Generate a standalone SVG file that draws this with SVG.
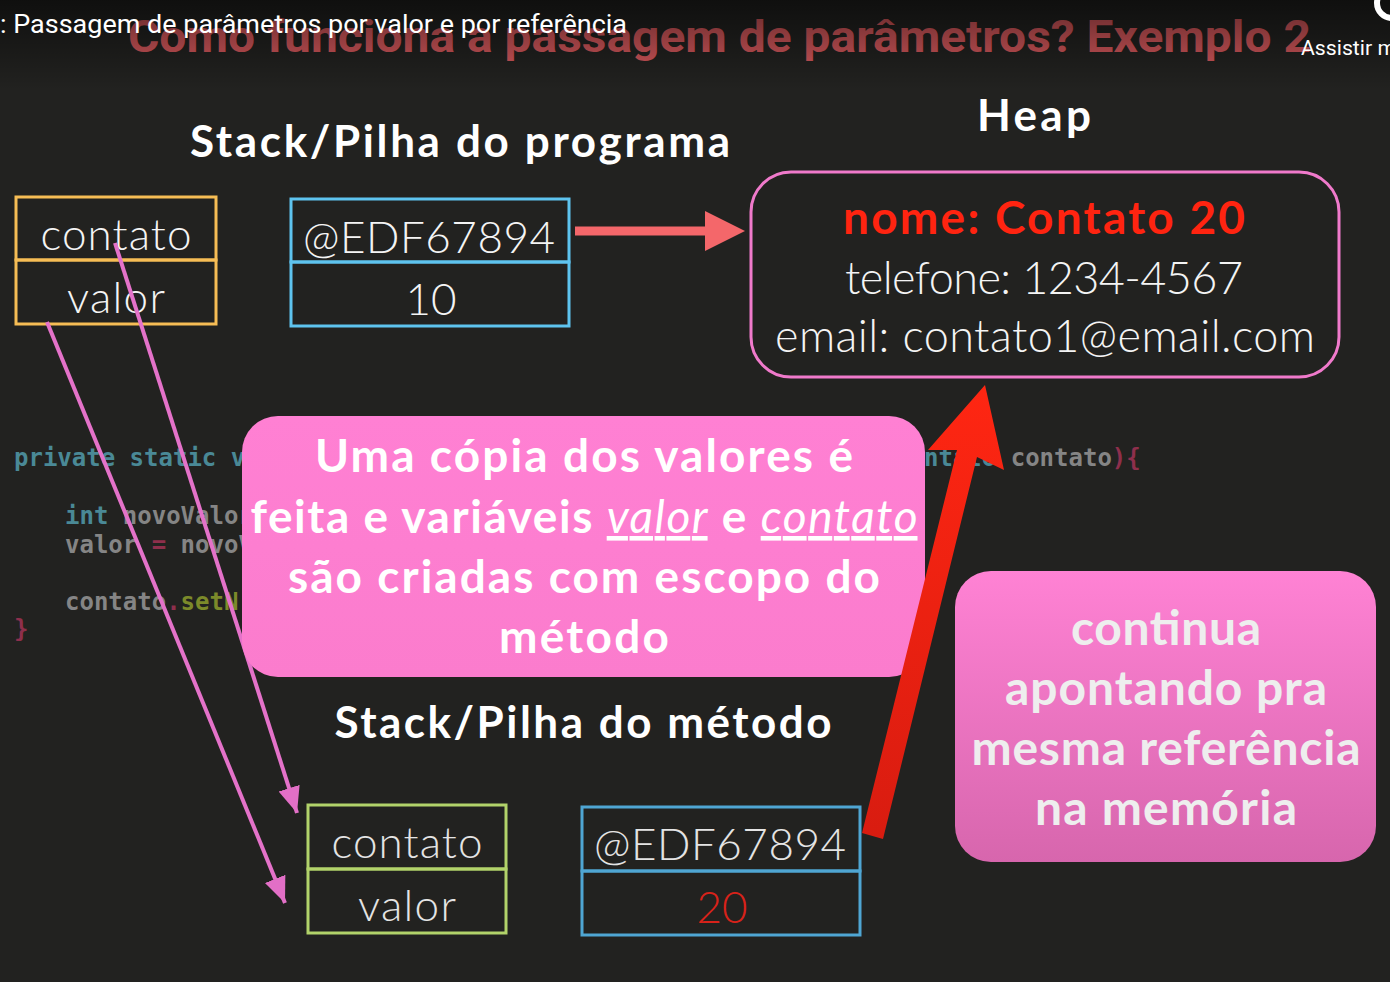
<svg xmlns="http://www.w3.org/2000/svg" width="1390" height="982" viewBox="0 0 1390 982">
<defs>
<linearGradient id="topfade" x1="0" y1="0" x2="0" y2="1">
<stop offset="0" stop-color="#000" stop-opacity="0.55"/>
<stop offset="1" stop-color="#000" stop-opacity="0"/>
</linearGradient>
<linearGradient id="pink1" x1="0" y1="0" x2="0" y2="1">
<stop offset="0" stop-color="#ff80d3"/>
<stop offset="1" stop-color="#fb7ccd"/>
</linearGradient>
<linearGradient id="pink2" x1="0" y1="0" x2="0" y2="1">
<stop offset="0" stop-color="#ff82d4"/>
<stop offset="1" stop-color="#d766ad"/>
</linearGradient>
<linearGradient id="red" x1="0" y1="1" x2="0" y2="0">
<stop offset="0" stop-color="#d81c10"/>
<stop offset="1" stop-color="#ff2612"/>
</linearGradient>
<marker id="pinkhead" markerUnits="userSpaceOnUse" markerWidth="30" markerHeight="30" refX="26" refY="11" orient="auto">
<path d="M0,0 L26,11 L0,22 Z" fill="#e26fc6"/>
</marker>
</defs>
<style>
.hd{font-family:"Lato","Open Sans",sans-serif;font-weight:700;fill:#ffffff;font-size:44px;text-anchor:middle}
.cell{font-family:"Lato","Open Sans",sans-serif;font-weight:300;font-size:44px;text-anchor:middle;fill:#f4f4f4}
.heap{font-family:"Lato","Open Sans",sans-serif;font-weight:300;font-size:45px;text-anchor:middle;fill:#f4f4f4}
.pk{font-family:"Lato","Open Sans",sans-serif;font-weight:700;font-size:46px;text-anchor:middle;fill:#ffffff}
.pk2{font-family:"Lato","Open Sans",sans-serif;font-weight:700;font-size:48px;text-anchor:middle;fill:#eeeeee}
.u{font-style:italic;font-weight:400;text-decoration:underline}
.code{font-family:"DejaVu Sans Mono","Liberation Mono",monospace;font-size:24px;font-weight:700}
.kw{fill:#4a8996}
.id{fill:#858585}
.op{fill:#8e2f4c}
.fn{fill:#7c8a2a}
.pinkline{stroke:#e472c9;stroke-width:4;fill:none}
</style>
<rect x="0" y="0" width="1390" height="982" fill="#222220"/>

<g id="code" class="code">
<text x="14" y="466" class="kw">private static v</text>
<text x="924" y="466"><tspan class="kw">ntato</tspan><tspan class="id"> contato</tspan><tspan class="op">){</tspan></text>
<text x="65" y="524"><tspan class="kw">int</tspan><tspan class="id"> novoValor</tspan></text>
<text x="65" y="553"><tspan class="id">valor </tspan><tspan class="op">=</tspan><tspan class="id"> novoV</tspan></text>
<text x="65" y="610"><tspan class="id">contato</tspan><tspan class="op">.</tspan><tspan class="fn">setN</tspan></text>
<text x="14" y="637" class="op">}</text>
</g>

<g id="title">
<text x="128" y="52" font-family="Roboto,'Liberation Sans',sans-serif" font-weight="700" font-size="44" fill="#d6585c" textLength="1183" lengthAdjust="spacingAndGlyphs">Como funciona a passagem de parâmetros? Exemplo 2</text>
</g>

<text class="hd" x="460" y="157" textLength="540">Stack/Pilha do programa</text>
<text class="hd" x="1034" y="131" textLength="114">Heap</text>
<text class="hd" x="583" y="738" textLength="497">Stack/Pilha do método</text>

<g id="prog-contato">
<rect x="16" y="197" width="200" height="63" fill="none" stroke="#f6bd55" stroke-width="3"/>
<text class="cell" x="116" y="250" textLength="151">contato</text>
</g>
<g id="prog-valor">
<rect x="16" y="260" width="200" height="64" fill="none" stroke="#f6bd55" stroke-width="3"/>
<text class="cell" x="116" y="313" textLength="98">valor</text>
</g>
<g id="prog-ref">
<rect x="291" y="199" width="278" height="63" fill="none" stroke="#5ec4ef" stroke-width="3"/>
<text class="cell" x="429" y="253" textLength="252">@EDF67894</text>
</g>
<g id="prog-val">
<rect x="291" y="262" width="278" height="64" fill="none" stroke="#5ec4ef" stroke-width="3"/>
<text class="cell" x="431" y="315">10</text>
</g>

<g id="heap">
<rect x="751" y="172" width="588" height="205" rx="40" fill="none" stroke="#f07acb" stroke-width="3"/>
<text x="1044" y="234" font-family="Lato,'Open Sans',sans-serif" font-weight="700" font-size="46" fill="#ff2410" text-anchor="middle" textLength="402">nome: Contato 20</text>
<text class="heap" x="1044" y="294" textLength="398">telefone: 1234-4567</text>
<text class="heap" x="1045" y="352" textLength="540">email: contato1@email.com</text>
</g>

<g id="connectors">
<path d="M575,231 H710" stroke="#f4676a" stroke-width="9" fill="none"/>
<path d="M705,211 L745,231 L705,251 Z" fill="#f4676a"/>
<line class="pinkline" x1="115" y1="243" x2="297" y2="813" marker-end="url(#pinkhead)"/>
<line class="pinkline" x1="47" y1="322" x2="285" y2="903" marker-end="url(#pinkhead)"/>
</g>

<g id="note-copy">
<rect x="242" y="416" width="683" height="261" rx="36" fill="url(#pink1)"/>
<text class="pk" x="584" y="472" textLength="538">Uma cópia dos valores é</text>
<text class="pk" x="584" y="533" textLength="667">feita e variáveis <tspan class="u">valor</tspan> e <tspan class="u">contato</tspan></text>
<text class="pk" x="584" y="593" textLength="592">são criadas com escopo do</text>
<text class="pk" x="584" y="653" textLength="170">método</text>
</g>

<g id="red-arrow">
<path d="M985,385 L1004,470 L977,457 L883,839 L862,833 L957,450 L928,450 Z" fill="url(#red)"/>
</g>

<g id="note-same">
<rect x="955" y="571" width="421" height="291" rx="36" fill="url(#pink2)"/>
<text class="pk2" x="1166" y="645" textLength="190">continua</text>
<text class="pk2" x="1166" y="705" textLength="322">apontando pra</text>
<text class="pk2" x="1166" y="765" textLength="389">mesma referência</text>
<text class="pk2" x="1166" y="825" textLength="262">na memória</text>
</g>

<g id="meth-contato">
<rect x="308" y="805" width="198" height="64" fill="none" stroke="#b2d36a" stroke-width="3"/>
<text class="cell" x="407" y="858" style="fill:#e4e4e4" textLength="151">contato</text>
</g>
<g id="meth-valor">
<rect x="308" y="869" width="198" height="64" fill="none" stroke="#b2d36a" stroke-width="3"/>
<text class="cell" x="407" y="921" style="fill:#e4e4e4" textLength="98">valor</text>
</g>
<g id="meth-ref">
<rect x="582" y="807" width="278" height="64" fill="none" stroke="#4fa6d3" stroke-width="3"/>
<text class="cell" x="720" y="860" style="fill:#e4e4e4" textLength="252">@EDF67894</text>
</g>
<g id="meth-val">
<rect x="582" y="871" width="278" height="64" fill="none" stroke="#4fa6d3" stroke-width="3"/>
<text class="cell" x="722" y="923" style="fill:#d8221a">20</text>
</g>

<g id="overlay">
<rect x="0" y="0" width="1390" height="90" fill="url(#topfade)"/>
<text x="0" y="33" font-family="Roboto,'Liberation Sans',sans-serif" font-size="26" fill="#ffffff" textLength="627" lengthAdjust="spacingAndGlyphs">: Passagem de parâmetros por valor e por referência</text>
<text x="1301" y="55" font-family="Roboto,'Liberation Sans',sans-serif" font-size="20" fill="#ffffff" textLength="95" lengthAdjust="spacingAndGlyphs">Assistir m</text>
<circle cx="1392" cy="3" r="15" fill="none" stroke="#ffffff" stroke-width="6"/>
</g>
</svg>
